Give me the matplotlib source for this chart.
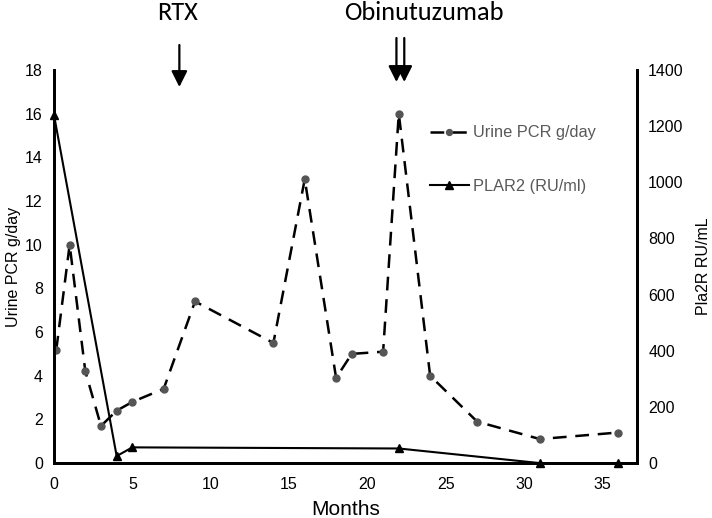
import matplotlib
matplotlib.use("Agg")
import matplotlib.pyplot as plt

# Data
pcr_months = [0.15, 1, 2, 3, 4, 5, 7, 9, 14, 16, 18, 19, 21, 22, 24, 27, 31, 36]
pcr_values = [5.2, 10.0, 4.2, 1.7, 2.4, 2.8, 3.4, 7.4, 5.5, 13.0, 3.9, 5.0, 5.1, 16.0, 4.0, 1.9, 1.1, 1.4]
pla_months = [0, 4, 5, 22, 31, 36]
pla_values = [1240, 25, 56, 52, 0, 0]
x_ticks = [0, 5, 10, 15, 20, 25, 30, 35]
left_ticks = [0, 2, 4, 6, 8, 10, 12, 14, 16, 18]
right_ticks = [0, 200, 400, 600, 800, 1000, 1200, 1400]
rtx_month = 8.0
obi_months = [21.85, 22.35]

FAM = ['Liberation Sans', 'DejaVu Sans']
plt.rcParams['font.family'] = FAM

fig = plt.figure(figsize=(7.12, 5.18), dpi=100)
ax = fig.add_axes([0.0758, 0.106, 0.8189, 0.759])
ax2 = ax.twinx()

l1, = ax.plot(pcr_months, pcr_values, color='black', linestyle=(0, (5.5, 3.5)), linewidth=1.8,
              marker='o', markersize=5, markerfacecolor='#555555', markeredgecolor='#555555',
              label='Urine PCR g/day', zorder=3)
l2, = ax2.plot(pla_months, pla_values, color='black', linewidth=1.5, marker='^', markersize=6,
               markerfacecolor='black', markeredgecolor='black', label='PLAR2 (RU/ml)',
               clip_on=False, zorder=3)

ax.set_xlim(0, 37.2)
ax.set_ylim(0, 18)
ax2.set_ylim(0, 1400)
ax.set_xticks(x_ticks)
ax.set_yticks(left_ticks)
ax2.set_yticks(right_ticks)

for a in (ax, ax2):
    a.tick_params(axis='both', length=0, labelsize=11.5, pad=8)
    a.spines['top'].set_visible(False)
    for s in ('left', 'right', 'bottom'):
        a.spines[s].set_linewidth(2)
    for lab in a.get_xticklabels() + a.get_yticklabels():
        lab.set_family(FAM)
ax.tick_params(axis='x', pad=10)

ax.set_xlabel('Months', fontsize=15, labelpad=6, family=FAM)
ax.set_ylabel('Urine PCR g/day', fontsize=11.5, labelpad=3, family=FAM)
ax2.set_ylabel('Pla2R RU/mL', fontsize=11.5, labelpad=9, family=FAM)

leg = ax2.legend(handles=[l1, l2], loc='upper left', bbox_to_anchor=(0.633, 0.876),
                 frameon=False, prop={'family': FAM, 'size': 11.8}, labelspacing=2.35,
                 handlelength=2.4, handletextpad=0.25, borderaxespad=0, markerscale=0.85)
for t in leg.get_texts():
    t.set_color('#595959')

# Annotations (arrows above the plot)
def fx(m):
    x_disp = ax.transData.transform((m, 0))[0]
    return fig.transFigure.inverted().transform((x_disp, 0))[0]

H = 518.0
CAL = ['Carlito', 'DejaVu Sans']
AP = dict(arrowstyle='-|>', color='black', lw=1.6, mutation_scale=24, shrinkA=0, shrinkB=0)
fig.text(fx(rtx_month - 0.1), 1 - 20 / H, 'RTX', ha='center', va='baseline', fontsize=19, family=CAL)
ax.annotate('', xy=(fx(rtx_month), 1 - 87 / H), xytext=(fx(rtx_month), 1 - 45 / H),
            xycoords='figure fraction', textcoords='figure fraction',
            arrowprops=AP, annotation_clip=False)
fig.text(fx(23.6), 1 - 20 / H, 'Obinutuzumab', ha='center', va='baseline', fontsize=19, family=CAL)
for m in obi_months:
    ax.annotate('', xy=(fx(m), 1 - 82 / H), xytext=(fx(m), 1 - 38 / H),
                xycoords='figure fraction', textcoords='figure fraction',
                arrowprops=AP, annotation_clip=False)

fig.savefig('out.png', dpi=100)
